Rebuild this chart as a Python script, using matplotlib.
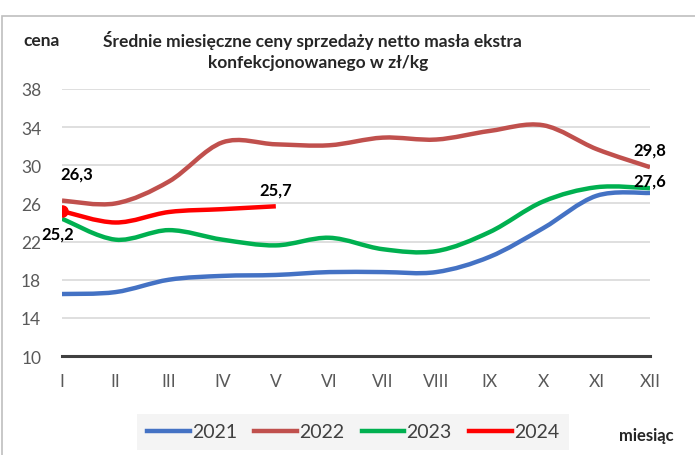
import matplotlib
matplotlib.use("Agg")
import matplotlib.pyplot as plt
from matplotlib.path import Path
from matplotlib.patches import PathPatch, Rectangle
from matplotlib.lines import Line2D
import numpy as np

months = ["I", "II", "III", "IV", "V", "VI", "VII", "VIII", "IX", "X", "XI", "XII"]
y2021 = [16.5, 16.7, 18.0, 18.4, 18.5, 18.8, 18.8, 18.8, 20.4, 23.4, 26.8, 27.1]
y2022 = [26.3, 26.0, 28.3, 32.4, 32.2, 32.1, 32.9, 32.7, 33.6, 34.2, 31.7, 29.8]
y2023 = [24.4, 22.2, 23.2, 22.2, 21.6, 22.4, 21.2, 21.0, 23.0, 26.2, 27.7, 27.6]
y2024 = [25.2, 24.0, 25.1, 25.4, 25.7]
yticks = [10, 14, 18, 22, 26, 30, 34, 38]
series_names = ["2021", "2022", "2023", "2024"]
colors = ["#4472C4", "#C0504D", "#00B050", "#FF0000"]

FONT = ["Lato", "DejaVu Sans"]
plt.rcParams['font.family'] = FONT

fig = plt.figure(figsize=(6.95, 4.56), dpi=100)
W, H = 695, 456
ax = fig.add_axes([62 / W, 1 - 357 / H, (650 - 62) / W, (357 - 90) / H])

# outer frame
fig.patches.append(Rectangle((2 / W, -0.05), 1.2, (456 - 17) / H + 0.05, transform=fig.transFigure,
                             fill=False, edgecolor="#BFBFBF", linewidth=1.2))


def smooth_path(xs, ys):
    pts = np.column_stack([xs, ys]).astype(float)
    n = len(pts)
    verts = [pts[0]]
    codes = [Path.MOVETO]
    for i in range(n - 1):
        p0 = pts[i - 1] if i > 0 else pts[i]
        p1 = pts[i]
        p2 = pts[i + 1]
        p3 = pts[i + 2] if i + 2 < n else pts[i + 1]
        c1 = p1 + (p2 - p0) / 6.0
        c2 = p2 - (p3 - p1) / 6.0
        verts += [c1, c2, p2]
        codes += [Path.CURVE4] * 3
    return Path(verts, codes)


for vals, c in zip([y2021, y2022, y2023, y2024], colors):
    xs = np.arange(len(vals))
    patch = PathPatch(smooth_path(xs, vals), fill=False, edgecolor=c, linewidth=3.2,
                      capstyle="butt", joinstyle="round", zorder=3)
    ax.add_patch(patch)

ax.plot([0], [y2024[0]], marker="o", color=colors[3], markersize=8, zorder=4)

ax.set_xlim(0, 11)
ax.set_ylim(10, 38)
ax.set_yticks(yticks)
ax.set_xticks(range(12))
ax.set_xticklabels(months)
ax.grid(axis="y", color="#D9D9D9", linewidth=1.2)
ax.set_axisbelow(True)
for s in ["top", "right", "left"]:
    ax.spines[s].set_visible(False)
ax.spines["bottom"].set_color("#404040")
ax.spines["bottom"].set_linewidth(2.2)
ax.spines["bottom"].set_zorder(2)
ax.tick_params(axis="both", length=0, labelsize=12.5, labelcolor="#595959")
ax.tick_params(axis="y", pad=15)
ax.tick_params(axis="x", pad=12)

# data labels
lab_kw = dict(fontsize=12, fontweight="bold", color="black", ha="center", va="center")
ax.annotate("26,3", (0, y2022[0]), xytext=(15, 27), textcoords="offset pixels", **lab_kw)
ax.annotate("25,2", (0, y2024[0]), xytext=(-4, -22), textcoords="offset pixels", **lab_kw)
ax.annotate("25,7", (4, y2024[4]), xytext=(0, 17), textcoords="offset pixels", **lab_kw)
ax.annotate("29,8", (11, y2022[11]), xytext=(0, 18), textcoords="offset pixels", **lab_kw)
ax.annotate("27,6", (11, y2023[11]), xytext=(0, 8), textcoords="offset pixels", **lab_kw)

# titles
tkw = dict(fontsize=12.5, fontweight="bold", color="#262626", ha="center", va="center")
fig.text(42 / W, 1 - 41 / H, "cena", **tkw)
fig.text(312 / W, 1 - 41 / H, "Średnie miesięczne ceny sprzedaży netto masła ekstra", **tkw)
fig.text(318 / W, 1 - 63 / H, "konfekcjonowanego w zł/kg", **tkw)
fig.text(646 / W, 1 - 436 / H, "miesiąc", fontsize=12, fontweight="bold", color="#262626",
         ha="center", va="center")

handles = [Line2D([], [], color=c, linewidth=3.2) for c in colors]
leg = fig.legend(handles, series_names, loc="center", bbox_to_anchor=(353 / W, 1 - 433 / H),
                 ncol=4, frameon=True, fancybox=False, fontsize=14, handlelength=2.2,
                 handletextpad=0.1, columnspacing=0.9, borderpad=0.5, borderaxespad=0)
leg.get_frame().set_facecolor("#F2F2F2")
leg.get_frame().set_edgecolor("none")
for t in leg.get_texts():
    t.set_color("#404040")

fig.savefig("out.png", dpi=100)
